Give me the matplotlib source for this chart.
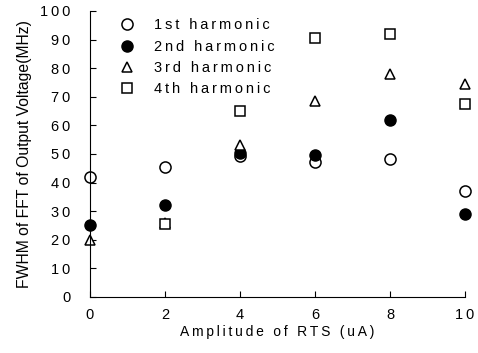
import matplotlib
matplotlib.use("Agg")
import matplotlib.pyplot as plt

plt.rcParams['font.family'] = ['Liberation Sans', 'DejaVu Sans']

x = [0, 2, 4, 6, 8, 10]
first = [42, 45.5, 49.4, 47.3, 48.3, 37]
second = [25.2, 32, 50.4, 49.7, 62, 29]
third = [20, 26, 53, 68.6, 78, 74.5]
x4 = [2, 4, 6, 8, 10]
fourth = [25.5, 65, 90.5, 92, 67.6]
names = ['1st harmonic', '2nd harmonic', '3rd harmonic', '4th harmonic']


def spaced(s):
    # the original typeset has wide letter spacing
    return '\u2009'.join(s)


fig = plt.figure(figsize=(4.78, 3.53), dpi=100)
ax = fig.add_axes([0.188, 0.159, 0.785, 0.81])

ax.plot(x, first, 'o', mfc='white', mec='black', mew=1.1, ms=8, ls='none', clip_on=False, label=spaced(names[0]))
ax.plot(x, second, 'o', mfc='black', mec='black', ms=8, ls='none', clip_on=False, label=spaced(names[1]))
ax.plot(x, third, '^', mfc='white', mec='black', mew=1.1, ms=7.5, ls='none', clip_on=False, label=spaced(names[2]))
ax.plot(x4, fourth, 's', mfc='white', mec='black', mew=1.1, ms=7, ls='none', clip_on=False, label=spaced(names[3]))

ax.set_xlim(0, 10)
ax.set_ylim(0, 100)
ax.set_xticks(x)
ax.set_xticklabels([spaced(str(v)) for v in x])
yt = list(range(0, 101, 10))
ax.set_yticks(yt)
ax.set_yticklabels([spaced(str(v)) for v in yt])
ax.spines['top'].set_visible(False)
ax.spines['right'].set_visible(False)
ax.tick_params(direction='in', length=4, labelsize=10.5)
ax.tick_params(axis='x', pad=8)
ax.tick_params(axis='y', pad=14)

ax.set_xlabel(spaced('Amplitude of RTS (uA)'), fontsize=10, labelpad=2)
ax.set_ylabel('FWHM of FFT of Output Voltage(MHz)', fontsize=11.3, labelpad=6)

ax.legend(loc='upper left', bbox_to_anchor=(0.04, 1.02), frameon=False, fontsize=10.5,
          handletextpad=1.3, labelspacing=0.5, handlelength=1.2)

fig.savefig('out.png', dpi=100)
